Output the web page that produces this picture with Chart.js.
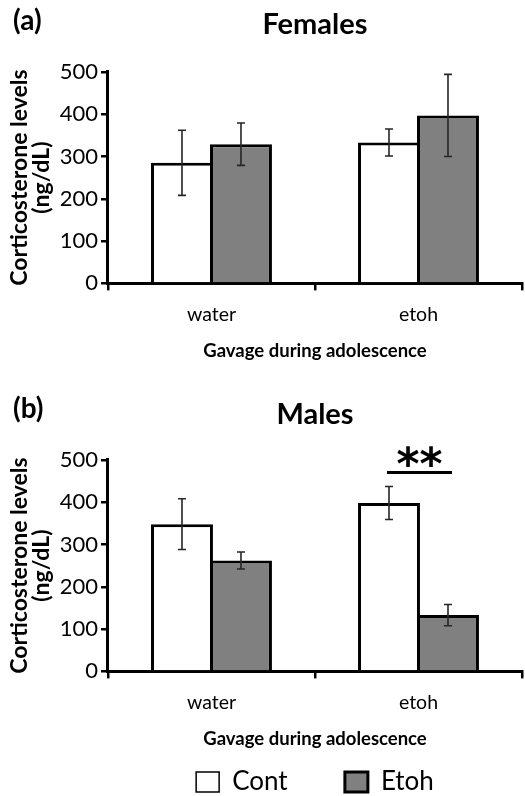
<!DOCTYPE html>
<html>
<head>
<meta charset="utf-8">
<title>Corticosterone levels</title>
<script src="https://cdn.jsdelivr.net/npm/chart.js@4.4.0/dist/chart.umd.min.js"></script>
<style>
  html, body { margin: 0; padding: 0; background: #fff; }
  body { width: 525px; height: 796px; overflow: hidden; font-family: Lato, sans-serif; }
  .panel { position: relative; width: 525px; }
  .panel canvas { display: block; }
  .tag { position: absolute; left: 13px; font: bold 28px Lato, sans-serif; color: #000; }
</style>
</head>
<body>
<div class="panel" style="height:380px">
  <span class="tag" style="top:2px">(a)</span>
  <canvas id="females" width="525" height="380"></canvas>
</div>
<div class="panel" style="height:425px">
  <span class="tag" style="top:10px">(b)</span>
  <canvas id="males" width="525" height="425"></canvas>
</div>
<script>
// values (ng/dL), means and error bar half-lengths
var groups = ['water', 'etoh'];

var femaleCont = [285, 333];
var femaleContErr = [77, 32];
var femaleEtoh = [329, 397];
var femaleEtohErr = [50, 97];

var maleCont = [348, 398];
var maleContErr = [60, 39];
var maleEtoh = [262, 133];
var maleEtohErr = [20, 25];

// significance mark on the males chart: group index, height of bar line, label
var maleSigGroup = 1;
var maleSigValue = 470;
var maleSigText = '**';

var yTicks = [0, 100, 200, 300, 400, 500];

Chart.defaults.font.family = 'Lato, sans-serif';
Chart.defaults.color = '#000';

// draws the error bars of each dataset from its "errors" array
var errorBars = {
  id: 'errorBars',
  afterDatasetsDraw: function(chart) {
    var ctx = chart.ctx, y = chart.scales.y;
    ctx.save();
    ctx.strokeStyle = '#262626';
    ctx.lineWidth = 1.6;
    chart.data.datasets.forEach(function(ds, i) {
      chart.getDatasetMeta(i).data.forEach(function(bar, j) {
        var top = y.getPixelForValue(ds.data[j] + ds.errors[j]);
        var bot = y.getPixelForValue(ds.data[j] - ds.errors[j]);
        ctx.beginPath();
        ctx.moveTo(bar.x, top); ctx.lineTo(bar.x, bot);
        ctx.moveTo(bar.x - 4, top); ctx.lineTo(bar.x + 4, top);
        ctx.moveTo(bar.x - 4, bot); ctx.lineTo(bar.x + 4, bot);
        ctx.stroke();
      });
    });
    ctx.restore();
  }
};

// line + asterisks between the two bars of one group
var sigMark = {
  id: 'sigMark',
  afterDatasetsDraw: function(chart, args, opts) {
    if (!opts || opts.group === undefined) return;
    var ctx = chart.ctx;
    var a = chart.getDatasetMeta(0).data[opts.group];
    var b = chart.getDatasetMeta(1).data[opts.group];
    var ly = chart.scales.y.getPixelForValue(opts.value);
    ctx.save();
    ctx.strokeStyle = '#000';
    ctx.lineWidth = 3;
    ctx.beginPath();
    ctx.moveTo(a.x - 2, ly); ctx.lineTo(b.x + 4, ly);
    ctx.stroke();
    ctx.font = 'bold 44px "DejaVu Sans", sans-serif';
    ctx.fillStyle = '#000';
    ctx.textAlign = 'center';
    ctx.textBaseline = 'alphabetic';
    var m = ctx.measureText(opts.text);
    ctx.fillText(opts.text, (a.x + b.x) / 2 + 1, ly - 5 - m.actualBoundingBoxDescent);
    ctx.restore();
  }
};

function makeChart(id, title, titlePad, cont, contErr, etoh, etohErr, showLegend, sig) {
  return new Chart(document.getElementById(id), {
    type: 'bar',
    data: {
      labels: groups,
      datasets: [{
        label: 'Cont',
        data: cont,
        errors: contErr,
        backgroundColor: '#ffffff',
        borderColor: '#000',
        borderWidth: 3
      }, {
        label: 'Etoh',
        data: etoh,
        errors: etohErr,
        backgroundColor: '#808080',
        borderColor: '#000',
        borderWidth: 3
      }]
    },
    options: {
      responsive: false,
      animation: false,
      devicePixelRatio: 1,
      categoryPercentage: 0.57,
      barPercentage: 1.05,
      layout: { padding: { left: 5, right: 3, top: 0, bottom: showLegend ? 0 : 14 } },
      plugins: {
        title: {
          display: true,
          fullSize: false,
          text: title,
          font: { size: 29, weight: 'bold' },
          padding: titlePad
        },
        legend: {
          display: showLegend,
          position: 'bottom',
          fullSize: false,
          labels: {
            font: { size: 26 },
            boxWidth: 23,
            boxHeight: 20,
            padding: 15,
            generateLabels: function(chart) {
              var items = Chart.defaults.plugins.legend.labels.generateLabels(chart);
              items[0].lineWidth = 1.5;
              items[0].text = 'Cont\u2003\u2002\u2009\u2009\u2009';
              return items;
            }
          }
        },
        tooltip: { enabled: false },
        sigMark: sig || {}
      },
      scales: {
        x: {
          offset: true,
          grid: { display: true, offset: true, drawOnChartArea: false, drawTicks: true, tickLength: 7, color: '#000', lineWidth: 2.5 },
          border: { display: true, color: '#000', width: 3 },
          ticks: { font: { size: 19.5 }, padding: 13 },
          title: { display: true, text: 'Gavage during adolescence', font: { size: 18.5, weight: 'bold' }, padding: { top: 0, bottom: 4 } }
        },
        y: {
          min: 0,
          max: 500,
          afterBuildTicks: function(scale) {
            scale.ticks = yTicks.map(function(v) { return { value: v }; });
          },
          grid: { display: true, drawOnChartArea: false, drawTicks: true, tickLength: 7, color: '#000', lineWidth: 2.5 },
          border: { display: true, color: '#000', width: 3 },
          ticks: { font: { size: 22 }, padding: 3 },
          title: {
            display: true,
            text: ['Corticosterone levels', '(ng/dL)'],
            font: { size: 23, weight: 'bold', lineHeight: 0.95 },
            padding: { top: 4, bottom: 4 }
          }
        }
      }
    },
    plugins: [errorBars, sigMark]
  });
}

makeChart('females', 'Females', { top: 7, bottom: 30 },
  femaleCont, femaleContErr, femaleEtoh, femaleEtohErr, false, null);

makeChart('males', 'Males', { top: 17, bottom: 28 },
  maleCont, maleContErr, maleEtoh, maleEtohErr, true,
  { group: maleSigGroup, value: maleSigValue, text: maleSigText });
</script>
</body>
</html>
